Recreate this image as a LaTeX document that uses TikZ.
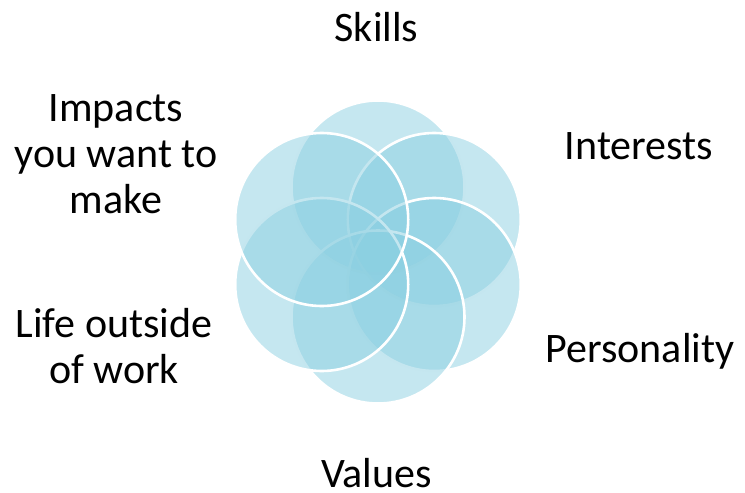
\documentclass[tikz,border=0pt]{standalone}
\usepackage{fontspec}
\setmainfont{Carlito}
\usepackage{tikz}

\definecolor{petalblue}{RGB}{139,207,225}

\begin{document}
\begin{tikzpicture}[x=1pt, y=-1pt,
		petal/.style={draw=white, line width=2.6pt, fill=petalblue, fill opacity=.5},
		lbl/.style={font=\fontsize{42}{46}\selectfont, align=center, anchor=base, inner sep=0pt}]
				\useasboundingbox (0,0) rectangle (745,493);
				% six petals, clockwise from the top one
				\foreach \a in {-90,-30,30,90,150,210} {
					\draw[petal] (378,252) ++(\a:65) circle (86.5pt);
				}
				\node[lbl] (skills) at (376.5,41) {Skills};
				\node[lbl] (interests) at (639,159) {Interests};
				\node[lbl] (personality) at (640,362) {Personality};
				\node[lbl] (values) at (376.5,487) {Values};
				% base anchor sits on the last line here
				\node[lbl] (life) at (114,383) {Life outside\\of work};
				\node[lbl] (impacts) at (116,213) {Impacts\\you want to\\make};
			\end{tikzpicture}
\end{document}
